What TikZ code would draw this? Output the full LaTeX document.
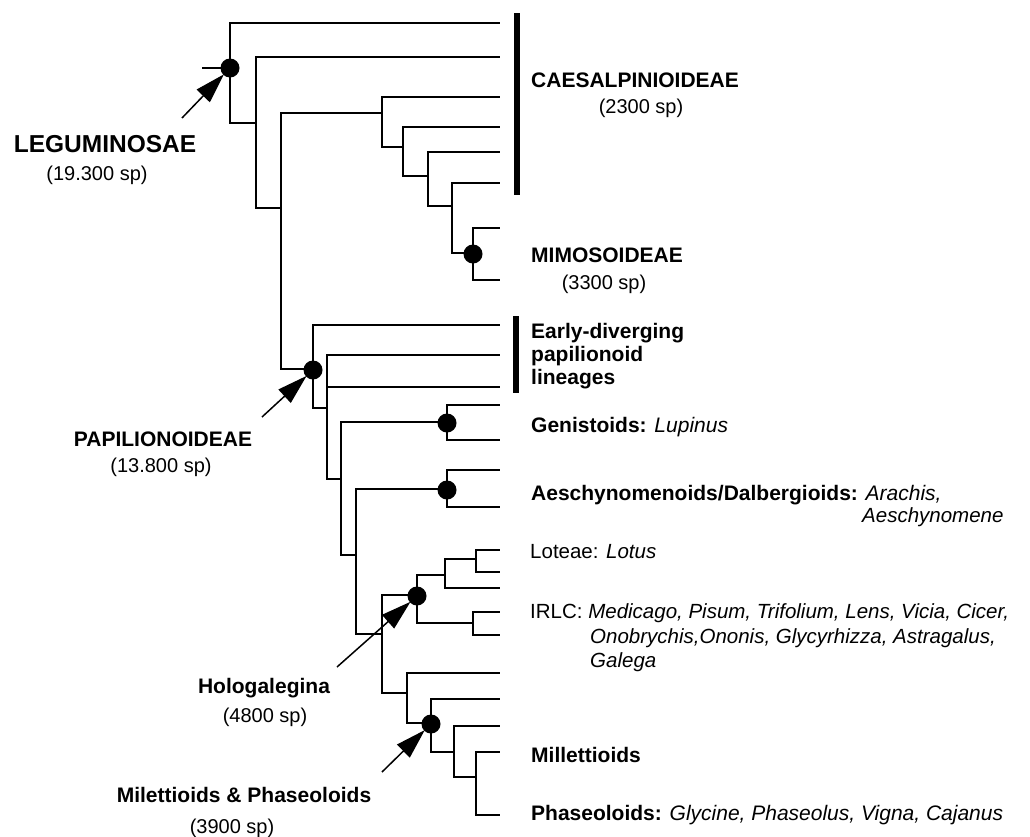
\documentclass[tikz,border=0pt]{standalone}
\usepackage{fontspec}
\setmainfont{Liberation Sans}
\usepackage{tikz}
\usetikzlibrary{arrows.meta, positioning}
\tikzset{
    branch/.style={line width=1.6pt, line cap=rect},
    dot/.style={circle, fill=black, inner sep=0pt, minimum size=19pt},
    cladebar/.style={line width=5.5pt},
    pointer/.style={line width=1.5pt, -{Triangle[length=30pt, width=18pt]}, shorten >=-1pt},
    clade/.style={anchor=base west, inner sep=0pt, font=\fontsize{21}{24}\selectfont\bfseries},
    genera/.style={anchor=base west, inner sep=0pt, font=\fontsize{20.5}{24}\selectfont},
    group/.style={anchor=base, inner sep=0pt, font=\fontsize{21}{24}\selectfont\bfseries},
    count/.style={anchor=base, inner sep=0pt, font=\fontsize{20}{24}\selectfont}
}
\begin{document}
\begin{tikzpicture}[x=1pt, y=-1pt, >=Stealth]
        \useasboundingbox (0,0) rectangle (1030,836);

        % Leguminosae root and Caesalpinioideae grade
        \draw[branch] (203,68) -- (230,68);
        \draw[branch] (499,23) -| (230,123) -- (256,123);
        \draw[branch] (499,57) -| (256,208) -- (281,208);
        \draw[branch] (382,113) -| (281,369) -- (313,369);
        \draw[branch] (499,97) -| (382,147) -- (403,147);
        \draw[branch] (499,127) -| (403,176) -- (428,176);
        \draw[branch] (499,152) -| (428,206) -- (452,206);
        \draw[branch] (499,183) -| (452,253) -- (473,253);
        \draw[branch] (499,228) -| (473,280) -- (499,280); % Mimosoideae

        % Papilionoideae
        \draw[branch] (499,325) -| (313,408) -- (327,408);
        \draw[branch] (499,355) -| (327,479) -- (341,479);
        \draw[branch] (327,387) -- (499,387);
        \draw[branch] (447,422) -| (341,555) -- (356,555);
        \draw[branch] (499,405) -| (447,440) -- (499,440); % Genistoids
        \draw[branch] (447,489) -| (356,634) -- (382,634);
        \draw[branch] (499,470) -| (447,507) -- (499,507); % Aeschynomenoids

        % Hologalegina
        \draw[branch] (417,595) -| (382,693) -- (407,693);
        \draw[branch] (445,575) -| (417,623) -- (473,623);
        \draw[branch] (476,559) -| (445,588) -- (499,588);
        \draw[branch] (499,550) -| (476,572) -- (499,572); % Loteae
        \draw[branch] (499,612) -| (473,635) -- (499,635); % IRLC

        % Millettioids and Phaseoloids
        \draw[branch] (499,673) -| (407,723) -- (431,723);
        \draw[branch] (499,699) -| (431,752) -- (454,752);
        \draw[branch] (499,726) -| (454,777) -- (476,777);
        \draw[branch] (499,752) -| (476,815) -- (499,815);

        % Clade dots
        \node[dot] (dLegu) at (230,68) {};
        \node[dot] (dMimo) at (473,254) {};
        \node[dot] (dPapi) at (313,370) {};
        \node[dot] (dGeni) at (447,423) {};
        \node[dot] (dAesch) at (447,490) {};
        \node[dot] (dHolo) at (417,596) {};
        \node[dot] (dMilph) at (431,724) {};

        % Bars
        \draw[cladebar] (517,13) -- (517,195);
        \draw[cladebar] (516,316) -- (516,393);

        % Right labels
        \node[clade] (caes) at (531,87) {CAESALPINIOIDEAE};
        \node[count] (caesSp) at (641,113) {(2300 sp)};
        \node[clade] (mimo) at (531,262) {MIMOSOIDEAE};
        \node[count] (mimoSp) at (604,289) {(3300 sp)};
        \node[clade] (early) at (531,338) {Early-diverging};
        \node[clade] (early2) at (531,361) {papilionoid};
        \node[clade] (early3) at (531,384) {lineages};
        \node[clade] (geni) at (531,432) {Genistoids: \normalfont\itshape Lupinus};
        \node[clade] (aesch) at (531,500) {Aeschynomenoids/Dalbergioids: \normalfont\itshape Arachis,};
        \node[genera] (aesch2) at (862,522) {\itshape Aeschynomene};
        \node[genera] (lote) at (530,558) {Loteae: \itshape Lotus};
        \node[genera] (irlc) at (530,618) {IRLC: \itshape Medicago, Pisum, Trifolium, Lens, Vicia, Cicer,};
        \node[genera] (irlc2) at (590,643) {\itshape Onobrychis,Ononis, Glycyrhizza, Astragalus,};
        \node[genera] (irlc3) at (590,667) {\itshape Galega};
        \node[clade] (mill) at (531,762) {Millettioids};
        \node[clade] (phas) at (531,820) {Phaseoloids: \normalfont\itshape Glycine, Phaseolus, Vigna, Cajanus};

        % Left labels
        \node[group, font=\fontsize{24.5}{28}\selectfont\bfseries] (legu) at (105,152) {LEGUMINOSAE};
        \node[count] (leguSp) at (97,180) {(19.300 sp)};
        \node[group] (papi) at (163,446) {PAPILIONOIDEAE};
        \node[count] (papiSp) at (161,472) {(13.800 sp)};
        \node[group] (holo) at (264,693) {Hologalegina};
        \node[count] (holoSp) at (265,722) {(4800 sp)};
        \node[group] (milph) at (244,802) {Milettioids \& Phaseoloids};
        \node[count] (milphSp) at (232,833) {(3900 sp)};

        % Arrows to the dots
        \coordinate (tLegu) at (182,118);
        \coordinate (tPapi) at (262,417);
        \coordinate (tHolo) at (337,667);
        \coordinate (tMilph) at (382,772);
        \draw[pointer] (tLegu) -- (dLegu);
        \draw[pointer] (tPapi) -- (dPapi);
        \draw[pointer] (tHolo) -- (dHolo);
        \draw[pointer] (tMilph) -- (dMilph);

    \end{tikzpicture}
\end{document}
